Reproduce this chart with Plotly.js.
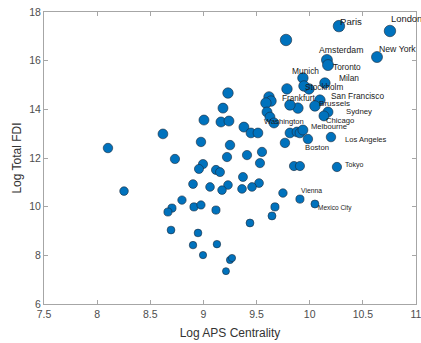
<!DOCTYPE html>
<html>
<head>
<meta charset="utf-8">
<script src="https://cdn.plot.ly/plotly-3.0.1.min.js"></script>
<style>html,body{margin:0;padding:0;background:#fff;}#chart{width:421px;height:343px;}</style>
</head>
<body>
<div id="chart"></div>
<script>
// ---- data ----
const cityName = ["Paris","London","New York","Amsterdam","Toronto","Munich","Milan","Stockholm",
  "San Francisco","Brussels","Frankfurt","Sydney","Chicago","Washington","Melbourne","Boston",
  "Los Angeles","Tokyo","Vienna","Mexico City"];
const cityAPS = [10.275,10.755,10.633,10.162,10.172,9.936,10.143,9.946,
  10.096,10.049,9.814,10.172,10.134,9.664,9.936,9.983,
  10.200,10.256,9.908,10.049];
const cityFDI = [17.42,17.22,16.15,16.03,15.82,15.29,15.08,14.96,
  14.38,14.14,14.18,13.89,13.73,13.44,13.15,12.78,
  12.86,11.63,10.31,10.11];
const citySize = [11.5,11.5,11,11,11,10.5,10.5,10.5,
  10.5,10.5,10.5,10,10,10,10,9.5,
  9.5,9.3,8.2,8];

const otherAPS = [9.777,9.786,9.993,9.889,9.617,9.636,9.588,9.598,9.626,9.231,9.184,9.005,9.165,9.240,
  9.381,9.447,9.513,9.814,9.880,9.908,9.767,8.619,8.102,8.977,9.250,8.732,9.222,9.410,
  9.551,9.532,8.996,8.958,9.118,9.156,9.852,9.908,9.372,9.523,9.457,9.363,9.231,9.175,
  9.062,8.902,8.253,8.798,8.704,8.666,8.911,8.977,9.118,9.748,9.673,9.645,9.438,8.695,
  8.949,8.902,9.127,8.996,9.250,9.269,9.212];
const otherFDI = [16.85,14.84,14.84,14.05,14.51,14.34,14.26,13.89,13.68,14.67,14.05,13.56,13.48,13.52,
  13.27,13.03,13.03,13.03,13.07,13.03,12.62,12.99,12.41,12.66,12.53,11.96,12.04,12.12,
  12.25,11.79,11.75,11.55,11.51,11.42,11.67,11.67,11.22,10.97,10.81,10.73,10.89,10.68,
  10.81,10.93,10.64,10.27,9.94,9.78,9.99,10.07,9.86,10.56,9.99,9.62,9.33,9.04,
  8.92,8.42,8.46,8.01,7.81,7.89,7.35];
const otherSize = [11.5,10.5,10.5,10.5,10.5,10.5,10.5,10,10,10.5,10,10,10,10,
  10,9.8,9.8,9.8,9.8,9.8,9.5,9.8,9.5,9.5,9.5,9.3,9.3,9.3,
  9.3,9.2,9.2,9.1,9.1,9,9.2,9.2,9,8.8,8.7,8.7,8.7,8.6,
  8.7,8.8,8.6,8.4,8.2,8.1,8.2,8.3,8.2,8.5,8.2,8,7.9,7.8,
  7.7,7.5,7.5,7.3,7.2,7.2,7];

const xTicks = [7.5,8,8.5,9,9.5,10,10.5,11];
const xTickText = ["7.5","8","8.5","9","9.5","10","10.5","11"];
const yTicks = [6,8,10,12,14,16,18];
const yTickText = ["6","8","10","12","14","16","18"];

// ---- label styling (pixel offsets of the text from its point, font size) ----
const labelStyle = {
  "Paris":[0,-5,9.6], "London":[0,-12.5,9.4], "New York":[1,-8,8.7], "Amsterdam":[-9,-10,8.7],
  "Toronto":[4,2,8.3], "Munich":[-12,-7,8.4], "Milan":[13,-5,8.4], "Stockholm":[0,1.5,8.2],
  "San Francisco":[10,-4,8.3], "Brussels":[3,-2,8.1], "Frankfurt":[-9,-6,8.2], "Sydney":[17,-1,7.8],
  "Chicago":[1,4.5,7.7], "Washington":[-11,-1,7.6], "Melbourne":[7,-4,7.6], "Boston":[-4,8,7.7],
  "Los Angeles":[13,2,7.6], "Tokyo":[7,-2.5,7], "Vienna":[0,-9,6.8], "Mexico City":[2,4,6.5]
};

const markerStyle = {color:'#0072BD', opacity:1, line:{color:'#1b2a3a', width:0.6}};

const traces = [
  {x: otherAPS, y: otherFDI, mode:'markers', type:'scatter', hoverinfo:'skip',
   marker: Object.assign({size: otherSize}, markerStyle)},
  {x: cityAPS, y: cityFDI, mode:'markers', type:'scatter', hoverinfo:'skip',
   marker: Object.assign({size: citySize}, markerStyle)}
];

const annotations = cityName.map((name, i) => {
  const s = labelStyle[name];
  return {x: cityAPS[i], y: cityFDI[i], xref:'x', yref:'y', text: name, showarrow:false,
    xanchor:'left', yanchor:'middle', xshift: s[0], yshift: -s[1], borderpad:0,
    font:{family:'Liberation Sans, Arial, sans-serif', size:s[2], color:'#1a1a1a'}};
});

const axisCommon = {
  showgrid:false, zeroline:false, showline:true, linecolor:'#a6a6a6', linewidth:1,
  mirror:'ticks', ticks:'inside', ticklen:4, tickcolor:'#a6a6a6', tickwidth:1,
  ticklabeloverflow:'allow',
  tickfont:{family:'Liberation Sans, Arial, sans-serif', size:10.5, color:'#4d4d4d'}
};

const layout = {
  width:421, height:343, margin:{l:44, r:5, t:12, b:39},
  paper_bgcolor:'#ffffff', plot_bgcolor:'#ffffff', showlegend:false,
  xaxis: Object.assign({}, axisCommon, {range:[7.5,11], tickmode:'array', tickvals:xTicks, ticktext:xTickText,
    title:{text:'Log APS Centrality', standoff:10, font:{family:'Liberation Sans, Arial, sans-serif', size:12, color:'#333333'}}}),
  yaxis: Object.assign({}, axisCommon, {range:[6,18], tickmode:'array', tickvals:yTicks, ticktext:yTickText,
    title:{text:'Log Total FDI', standoff:5, font:{family:'Liberation Sans, Arial, sans-serif', size:12, color:'#333333'}}}),
  annotations: annotations
};

Plotly.newPlot('chart', traces, layout, {staticPlot:true, displayModeBar:false});
</script>
</body>
</html>
